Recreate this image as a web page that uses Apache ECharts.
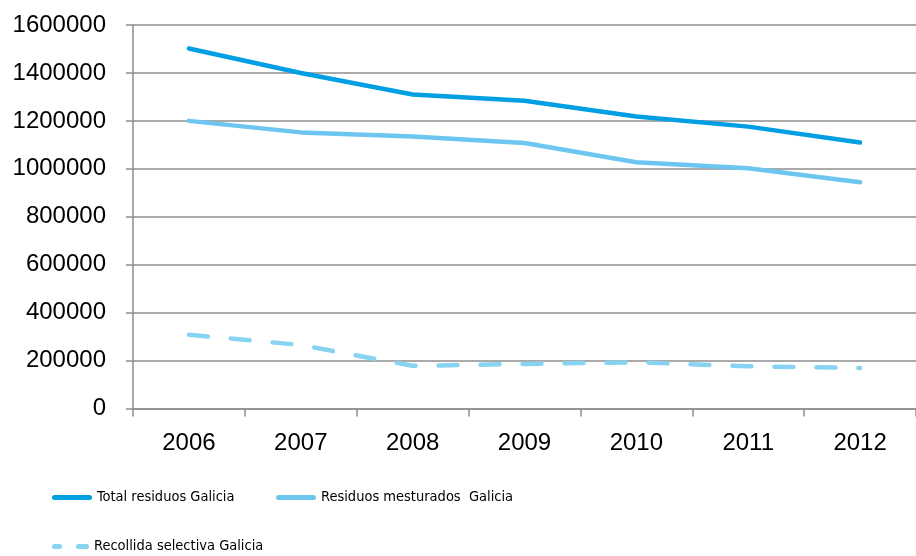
<!DOCTYPE html>
<html>
<head>
<meta charset="utf-8">
<script src="https://cdn.jsdelivr.net/npm/echarts@6/dist/echarts.min.js"></script>
<style>html,body{margin:0;padding:0;background:#fff}#c{width:916px;height:556px}</style>
</head>
<body>
<div id="c"></div>
<script>
const years = ['2006','2007','2008','2009','2010','2011','2012'];
const totalResiduos = [1502000, 1400000, 1310000, 1284000, 1218000, 1176000, 1110000];
const residuosMesturados = [1200000, 1152000, 1135000, 1108000, 1027000, 1002000, 944000];
const recollidaSelectiva = [308000, 265000, 178000, 186000, 193000, 176000, 169000];
const seriesNames = ['Total residuos Galicia', 'Residuos mesturados  Galicia', 'Recollida selectiva Galicia'];

const chart = echarts.init(document.getElementById('c'), null, {renderer: 'canvas'});
const axisFont = {fontFamily: 'Liberation Sans, Arial, sans-serif', fontSize: 24, color: '#000'};
const legendText = {fontFamily: '"DejaVu Sans Condensed", "Liberation Sans", sans-serif', fontSize: 14.5, color: '#000'};
const gray = '#8e8e8e';
const solidIcon = 'path://M2.5,0h35a2.5,2.5 0 0 1 0,5h-35a2.5,2.5 0 0 1 0,-5z';
const dashIcon = 'path://M2.5,0h5a2.5,2.5 0 0 1 0,5h-5a2.5,2.5 0 0 1 0,-5z M26.5,0h8a2.5,2.5 0 0 1 0,5h-8a2.5,2.5 0 0 1 0,-5z';
chart.setOption({
  animation: false,
  backgroundColor: '#fff',
  grid: {left: 133, top: 25, right: -10, bottom: 147.5, containLabel: false},
  xAxis: {
    type: 'category', data: years, boundaryGap: true,
    axisLine: {lineStyle: {color: gray, width: 1.5}},
    axisTick: {show: true, length: 8, lineStyle: {color: gray, width: 1.5}},
    axisLabel: Object.assign({margin: 23}, axisFont),
    splitLine: {show: false}
  },
  yAxis: {
    type: 'value', min: 0, max: 1600000, interval: 200000,
    axisLine: {show: true, lineStyle: {color: gray, width: 1.5}},
    axisTick: {show: true, length: 7, lineStyle: {color: gray, width: 1.5}},
    axisLabel: Object.assign({margin: 27, formatter: function (v) { return String(v); }}, axisFont),
    splitLine: {show: true, lineStyle: {color: gray, width: 1.5}}
  },
  legend: [
    {data: [{name: seriesNames[0], icon: solidIcon}], left: 52, top: 490, itemWidth: 40, itemHeight: 5, textStyle: legendText, padding: 0},
    {data: [{name: seriesNames[1], icon: solidIcon}], left: 276, top: 490, itemWidth: 40, itemHeight: 5, textStyle: legendText, padding: 0},
    {data: [{name: seriesNames[2], icon: dashIcon}], left: 52, top: 539, itemWidth: 37, itemHeight: 5, textStyle: legendText, padding: 0}
  ],
  series: [
    {name: seriesNames[0], type: 'line', data: totalResiduos, symbol: 'none',
     lineStyle: {color: '#009fe3', width: 4.5, cap: 'round'}, itemStyle: {color: '#009fe3'}},
    {name: seriesNames[1], type: 'line', data: residuosMesturados, symbol: 'none',
     lineStyle: {color: '#6cc6ef', width: 4.5, cap: 'round'}, itemStyle: {color: '#6cc6ef'}},
    {name: seriesNames[2], type: 'line', data: recollidaSelectiva, symbol: 'none',
     lineStyle: {color: '#87d3f1', width: 4.5, type: [19, 23], cap: 'round'}, itemStyle: {color: '#87d3f1'}}
  ]
});
</script>
</body>
</html>
